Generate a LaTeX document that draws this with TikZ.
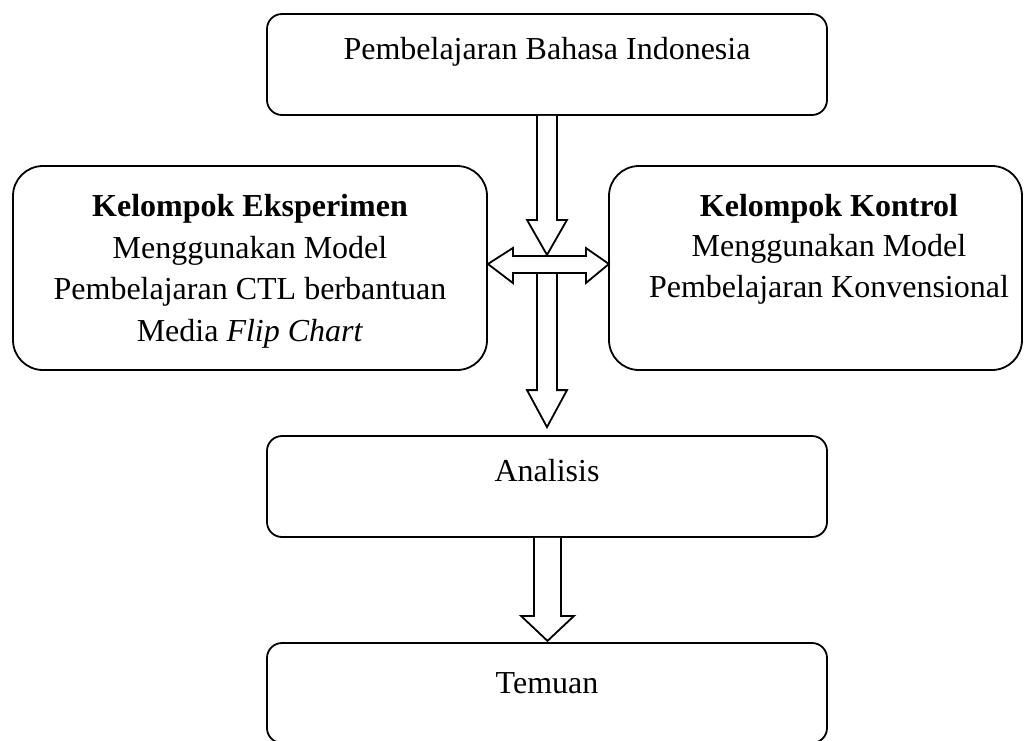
\documentclass[tikz,border=0pt]{standalone}
\usepackage{fontspec}
\setmainfont{Liberation Serif}
\begin{document}
\begin{tikzpicture}[x=1pt,y=-1pt,
  box/.style={draw, line width=1.8pt, rounded corners=#1, inner sep=0pt},
  txt/.style={anchor=base, inner sep=0pt, font=\fontsize{32}{40}\selectfont},
  blk/.style={draw, line width=1.8pt, fill=white, line join=miter}]
\useasboundingbox (0,0) rectangle (1036,740);
\clip (0,0) rectangle (1036,740);
% boxes
\node[box=15pt, minimum width=560pt, minimum height=101pt] (top) at (547,64.5) {};
\node[box=30pt, minimum width=474pt, minimum height=204pt] (exp) at (250,268) {};
\node[box=30pt, minimum width=413pt, minimum height=204pt] (kon) at (815.5,268) {};
\node[box=15pt, minimum width=560pt, minimum height=101pt] (ana) at (547,486.5) {};
\node[box=15pt, minimum width=560pt, minimum height=100pt] (tem) at (547,693) {};
% texts
\node[txt] (topt) at (547,59.5) {Pembelajaran Bahasa Indonesia};
\node[txt] (exp1) at (250,216.5) {\bfseries Kelompok Eksperimen};
\node[txt] (exp2) at (250,258) {Menggunakan Model};
\node[txt] (exp3) at (250,299.5) {Pembelajaran CTL berbantuan};
\node[txt] (exp4) at (250,341) {Media \textit{Flip Chart}};
\node[txt] (kon1) at (829,216) {\bfseries Kelompok Kontrol};
\node[txt] (kon2) at (829,256.5) {Menggunakan Model};
\node[txt] (kon3) at (829,297) {Pembelajaran Konvensional};
\node[txt] (anat) at (547,481) {Analisis};
\node[txt] (temt) at (547,693) {Temuan};
% block arrows
\draw[blk, shift={(top.south)}] (-10,0) -- (-10,104) -- (-20,104) -- (0,139) -- (20,104) -- (10,104) -- (10,0);
\draw[blk, shift={(ana.north)}] (-10,-163) -- (-10,-45) -- (-20,-45) -- (0,-8) -- (20,-45) -- (10,-45) -- (10,-163);
\draw[blk, shift={(exp.east)}] (0,-4) -- (25,-20) -- (25,-12) -- (98,-12) -- (98,-20) -- (121,-4) -- (98,15) -- (98,5) -- (25,5) -- (25,15) -- cycle;
\draw[blk, shift={(ana.south)}] (-13,0) -- (-13,78) -- (-26,78) -- (0.5,103) -- (27,78) -- (14,78) -- (14,0);
\end{tikzpicture}
\end{document}
